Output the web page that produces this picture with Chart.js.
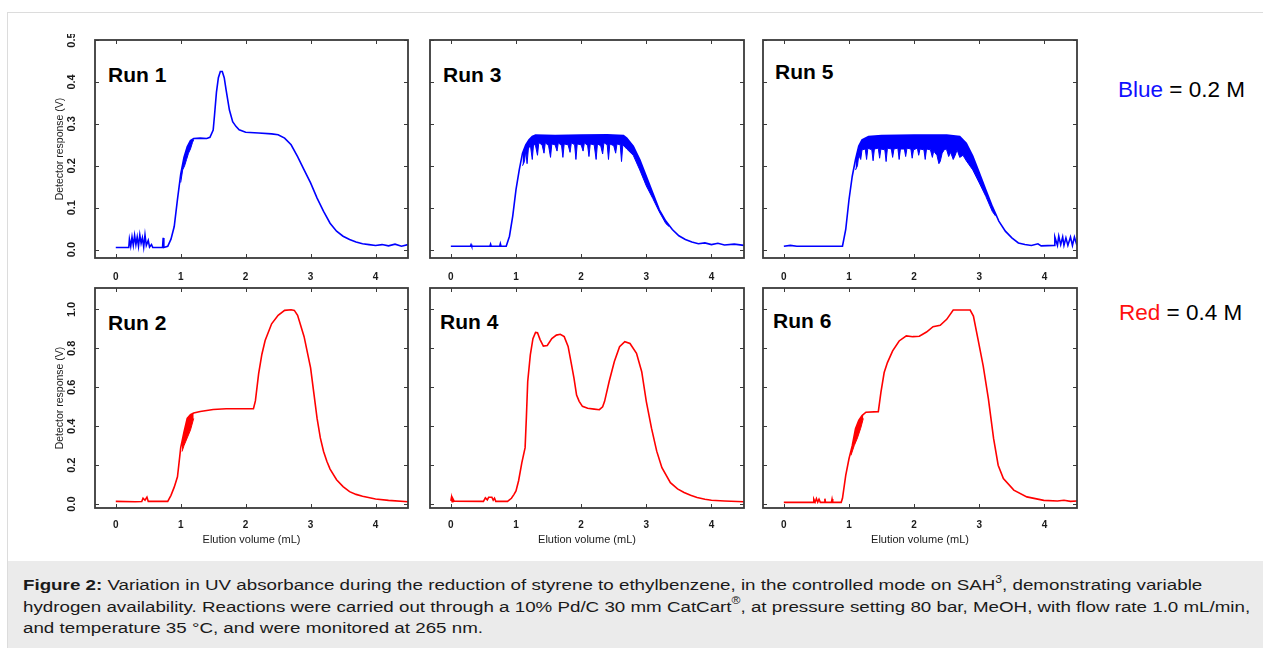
<!DOCTYPE html>
<html>
<head>
<meta charset="utf-8">
<script src="https://cdn.jsdelivr.net/npm/chart.js@4.4.1/dist/chart.umd.min.js"></script>
<style>
  body { margin: 0; background: #fff; font-family: "Liberation Sans", Arial, sans-serif; }
  #page { position: relative; width: 1263px; height: 648px; overflow: hidden; }
  #frame { position: absolute; left: 7px; top: 12px; width: 1300px; height: 700px;
           border-left: 1px solid #dcdcdc; border-top: 1px solid #dcdcdc; }
  canvas { position: absolute; }
  .run { position: absolute; font-weight: bold; font-size: 21px; line-height: 21px; color: #000; }
  .key { position: absolute; font-size: 22.5px; line-height: 22.5px; color: #000; white-space: nowrap; }
  #caption { position: absolute; left: 8px; top: 561px; width: 1260px; height: 87px; background: #ebebeb;
             box-sizing: border-box; padding: 13px 0 0 15px; color: #1a1a1a; white-space: nowrap; }
  #caption div { font-size: 15.5px; line-height: 21.5px; transform: scaleX(1.21); transform-origin: 0 0; }
  #caption sup { font-size: 10px; line-height: 0; position: relative; top: -1px; }
</style>
</head>
<body>
<div id="page">
  <div id="frame"></div>
  <div class="run" style="left:108px;top:64px">Run 1</div>
  <div class="run" style="left:108px;top:312px">Run 2</div>
  <div class="run" style="left:443px;top:64px">Run 3</div>
  <div class="run" style="left:440px;top:311px">Run 4</div>
  <div class="run" style="left:775px;top:61px">Run 5</div>
  <div class="run" style="left:773px;top:310px">Run 6</div>
  <div class="key" style="left:1118px;top:79px"><span style="color:#1010ff">Blue</span> = 0.2 M</div>
  <div class="key" style="left:1119px;top:302px"><span style="color:#ff1010">Red</span> = 0.4 M</div>
  <div id="caption"><div><b>Figure 2:</b> Variation in UV absorbance during the reduction of styrene to ethylbenzene, in the controlled mode on SAH<sup>3</sup>, demonstrating variable<br>hydrogen availability. Reactions were carried out through a 10% Pd/C 30 mm CatCart<sup>®</sup>, at pressure setting 80 bar, MeOH, with flow rate 1.0 mL/min,<br>and temperature 35 °C, and were monitored at 265 nm.</div></div>
</div>
<script>
'use strict';

// tick values
const xTicks = [0, 1, 2, 3, 4];
const topYTicks = [0, 0.1, 0.2, 0.3, 0.4, 0.5];
const bottomYTicks = [0, 0.2, 0.4, 0.6, 0.8, 1.0];

// traces, [elution volume (mL), detector response (V)]
const run1 = [[0,0.005],[0.2,0.005],[0.21,0.025],[0.23,0.008],[0.25,0.03],[0.27,0.01],[0.29,0.034],[0.31,0.012],
  [0.33,0.03],[0.35,0.008],[0.37,0.035],[0.39,0.015],[0.41,0.028],[0.43,0.006],[0.45,0.035],[0.47,0.01],[0.5,0.022],
  [0.52,0.006],[0.55,0.012],[0.57,0.005],[0.72,0.005],[0.73,0.028],[0.74,0.005],[0.8,0.008],[0.85,0.025],[0.9,0.055],
  [0.95,0.12],[1.0,0.18],[1.05,0.22],[1.1,0.245],[1.15,0.26],[1.2,0.265],[1.3,0.266],[1.4,0.265],[1.45,0.268],
  [1.5,0.285],[1.52,0.32],[1.55,0.375],[1.58,0.41],[1.61,0.425],[1.64,0.425],[1.67,0.41],[1.7,0.38],[1.75,0.333],
  [1.8,0.305],[1.85,0.294],[1.9,0.286],[2.0,0.28],[2.2,0.278],[2.4,0.276],[2.5,0.274],[2.6,0.266],[2.7,0.25],
  [2.8,0.222],[2.9,0.19],[3.0,0.159],[3.1,0.123],[3.2,0.091],[3.3,0.063],[3.4,0.044],[3.5,0.032],[3.6,0.024],
  [3.7,0.018],[3.8,0.014],[3.9,0.012],[4.0,0.01],[4.1,0.012],[4.2,0.009],[4.3,0.013],[4.4,0.008],[4.5,0.012]];
const run1Jitter = [[1.0,0.16],[1.03,0.19],[1.06,0.2],[1.09,0.215],[1.12,0.23],[1.15,0.24],[1.18,0.255],[1.2,0.262]];

const run2 = [[0,0.014],[0.3,0.012],[0.4,0.013],[0.42,0.03],[0.45,0.02],[0.48,0.036],[0.5,0.014],[0.8,0.014],
  [0.85,0.045],[0.9,0.087],[0.95,0.14],[1.0,0.29],[1.05,0.37],[1.1,0.44],[1.15,0.46],[1.2,0.468],[1.3,0.476],
  [1.5,0.486],[1.7,0.49],[2.0,0.49],[2.12,0.49],[2.15,0.53],[2.2,0.67],[2.25,0.77],[2.3,0.84],[2.4,0.926],
  [2.5,0.97],[2.6,0.995],[2.7,0.998],[2.75,0.995],[2.8,0.97],[2.9,0.86],[3.0,0.7],[3.05,0.57],[3.1,0.44],
  [3.15,0.34],[3.2,0.27],[3.25,0.22],[3.3,0.18],[3.4,0.125],[3.5,0.09],[3.6,0.064],[3.7,0.05],[3.8,0.04],
  [4.0,0.026],[4.2,0.019],[4.5,0.012]];
const run2Jitter = [[1.02,0.27],[1.05,0.3],[1.1,0.34],[1.15,0.38],[1.2,0.44]];

const run3 = [[0,0.008],[0.3,0.008],[0.31,0.012],[0.32,0.008],[0.6,0.008],[0.61,0.013],[0.62,0.008],[0.75,0.008],
  [0.76,0.014],[0.77,0.008],[0.85,0.008],[0.9,0.032],[0.95,0.08],[1.0,0.143],[1.05,0.19],[1.1,0.23],[1.15,0.25],
  [1.2,0.262],[1.25,0.27],[1.3,0.273],[1.6,0.272],[2.0,0.273],[2.4,0.274],[2.65,0.272],[2.7,0.266],[2.8,0.247],
  [2.9,0.215],[3.0,0.175],[3.1,0.135],[3.2,0.095],[3.3,0.068],[3.4,0.048],[3.5,0.033],[3.6,0.024],[3.7,0.018],
  [3.8,0.014],[3.9,0.016],[4.0,0.012],[4.1,0.015],[4.2,0.011],[4.35,0.013],[4.5,0.01]];
const run3Band = [[1.1,0.2],[1.13,0.21],[1.15,0.235],[1.17,0.205],[1.19,0.24],[1.22,0.25],[1.25,0.215],[1.27,0.252],
  [1.3,0.248],[1.33,0.225],[1.35,0.255],[1.4,0.25],[1.43,0.23],[1.45,0.255],[1.5,0.248],[1.53,0.22],[1.55,0.252],
  [1.6,0.25],[1.63,0.235],[1.65,0.255],[1.7,0.248],[1.72,0.22],[1.74,0.252],[1.8,0.25],[1.83,0.232],[1.85,0.255],
  [1.9,0.25],[1.92,0.215],[1.94,0.252],[2.0,0.25],[2.03,0.235],[2.05,0.255],[2.1,0.248],[2.12,0.222],[2.14,0.252],
  [2.2,0.25],[2.23,0.215],[2.25,0.252],[2.3,0.248],[2.33,0.228],[2.35,0.255],[2.4,0.25],[2.42,0.215],[2.44,0.252],
  [2.5,0.248],[2.53,0.23],[2.55,0.252],[2.6,0.25],[2.62,0.21],[2.64,0.25],[2.7,0.24],[2.8,0.225],[2.9,0.19],
  [3.0,0.152],[3.1,0.122],[3.2,0.09],[3.3,0.062],[3.35,0.055]];

const run4 = [[0,0.017],[0.01,0.035],[0.02,0.012],[0.03,0.028],[0.05,0.015],[0.5,0.014],[0.53,0.032],[0.56,0.022],
  [0.58,0.035],[0.63,0.035],[0.65,0.02],[0.67,0.03],[0.69,0.014],[0.87,0.014],[0.93,0.03],[0.97,0.05],[1.0,0.068],
  [1.04,0.12],[1.09,0.213],[1.14,0.29],[1.16,0.45],[1.18,0.63],[1.22,0.766],[1.26,0.85],[1.3,0.882],[1.33,0.88],
  [1.37,0.845],[1.42,0.812],[1.48,0.815],[1.55,0.85],[1.62,0.868],[1.68,0.872],[1.74,0.86],[1.8,0.81],[1.85,0.72],
  [1.89,0.647],[1.93,0.56],[1.97,0.528],[2.02,0.502],[2.1,0.492],[2.2,0.488],[2.28,0.485],[2.33,0.5],[2.36,0.528],
  [2.43,0.63],[2.51,0.732],[2.59,0.808],[2.67,0.834],[2.75,0.825],[2.85,0.775],[2.93,0.68],[3.0,0.528],[3.08,0.39],
  [3.16,0.272],[3.24,0.187],[3.37,0.11],[3.48,0.078],[3.58,0.06],[3.68,0.045],[3.78,0.034],[3.9,0.025],[4.0,0.02],
  [4.2,0.016],[4.5,0.012]];

const run5 = [[0,0.008],[0.1,0.01],[0.2,0.008],[0.9,0.008],[0.95,0.048],[1.0,0.119],[1.05,0.175],[1.1,0.215],
  [1.15,0.247],[1.2,0.262],[1.3,0.27],[1.5,0.272],[2.0,0.273],[2.5,0.273],[2.7,0.27],[2.8,0.254],[2.9,0.223],
  [3.0,0.183],[3.1,0.143],[3.2,0.103],[3.3,0.068],[3.4,0.044],[3.5,0.028],[3.6,0.016],[3.7,0.012],[3.8,0.01],
  [3.9,0.014],[3.95,0.009],[4.15,0.01],[4.16,0.03],[4.2,0.01],[4.22,0.032],[4.25,0.012],[4.28,0.03],[4.3,0.01],
  [4.33,0.028],[4.36,0.01],[4.4,0.03],[4.43,0.01],[4.46,0.03],[4.5,0.01]];
const run5Band = [[1.1,0.19],[1.13,0.2],[1.15,0.225],[1.18,0.215],[1.2,0.238],[1.25,0.24],[1.27,0.215],[1.29,0.242],
  [1.35,0.238],[1.37,0.212],[1.39,0.24],[1.45,0.242],[1.47,0.218],[1.49,0.24],[1.55,0.238],[1.57,0.21],[1.59,0.242],
  [1.65,0.24],[1.67,0.22],[1.69,0.24],[1.75,0.242],[1.77,0.215],[1.79,0.24],[1.85,0.24],[1.87,0.222],[1.89,0.242],
  [1.95,0.24],[1.97,0.218],[1.99,0.238],[2.05,0.242],[2.07,0.225],[2.09,0.24],[2.15,0.238],[2.17,0.215],[2.19,0.24],
  [2.25,0.238],[2.28,0.22],[2.3,0.235],[2.35,0.225],[2.38,0.205],[2.4,0.21],[2.43,0.23],[2.47,0.24],[2.5,0.238],
  [2.53,0.222],[2.56,0.232],[2.6,0.215],[2.63,0.225],[2.66,0.238],[2.7,0.22],[2.75,0.225],[2.8,0.212],[2.9,0.19],
  [3.0,0.159],[3.1,0.127],[3.2,0.091],[3.25,0.08]];

const run6 = [[0,0.009],[0.45,0.009],[0.46,0.025],[0.48,0.01],[0.5,0.028],[0.52,0.01],[0.54,0.025],[0.56,0.009],
  [0.62,0.009],[0.63,0.028],[0.64,0.009],[0.73,0.009],[0.74,0.026],[0.75,0.009],[0.88,0.009],[0.9,0.03],
  [0.95,0.148],[1.0,0.233],[1.05,0.3],[1.1,0.387],[1.15,0.43],[1.2,0.455],[1.26,0.472],[1.45,0.475],[1.49,0.574],
  [1.54,0.676],[1.59,0.727],[1.67,0.787],[1.77,0.838],[1.88,0.864],[1.98,0.86],[2.08,0.862],[2.19,0.884],
  [2.29,0.911],[2.4,0.918],[2.5,0.949],[2.6,0.997],[2.86,0.997],[2.91,0.966],[2.98,0.847],[3.06,0.71],[3.14,0.54],
  [3.22,0.336],[3.29,0.2],[3.37,0.131],[3.53,0.072],[3.73,0.037],[3.99,0.019],[4.2,0.016],[4.3,0.02],[4.4,0.014],
  [4.5,0.016]];
const run6Jitter = [[1.03,0.25],[1.08,0.3],[1.13,0.34],[1.18,0.39],[1.22,0.44]];

const blue = '#0000ff';
const red = '#ff0000';

// box with inward ticks on all four sides
const frameTicks = {
  id: 'frameTicks',
  afterDatasetsDraw(chart) {
    const { ctx, chartArea: a, scales: { x, y } } = chart;
    ctx.save();
    ctx.strokeStyle = '#3a3a3a';
    ctx.lineWidth = 1;
    ctx.beginPath();
    x.ticks.forEach(function(t) {
      const px = Math.round(x.getPixelForValue(t.value)) + 0.5;
      ctx.moveTo(px, a.top); ctx.lineTo(px, a.top + 4);
      ctx.moveTo(px, a.bottom); ctx.lineTo(px, a.bottom - 4);
    });
    y.ticks.forEach(function(t) {
      const py = Math.round(y.getPixelForValue(t.value)) + 0.5;
      ctx.moveTo(a.left, py); ctx.lineTo(a.left + 4, py);
      ctx.moveTo(a.right, py); ctx.lineTo(a.right - 4, py);
    });
    ctx.stroke();
    ctx.lineWidth = 1.8;
    ctx.strokeRect(a.left, a.top, a.right - a.left, a.bottom - a.top);
    ctx.restore();
  }
};

const cols = [{ left: 95, right: 408 }, { left: 430, right: 744 }, { left: 763, right: 1077 }];
const rows = [
  { top: 40, bottom: 258, yMax: 0.5, yTicks: topYTicks, xh: 26, xpad: 13, xTitle: false },
  { top: 288, bottom: 508, yMax: 1.11, yTicks: bottomYTicks, xh: 40, xpad: 11, xTitle: true }
];

const panels = [
  { data: run1, band: run1Jitter, color: blue, col: 0, row: 0 },
  { data: run3, band: run3Band, color: blue, col: 1, row: 0 },
  { data: run5, band: run5Band, color: blue, col: 2, row: 0 },
  { data: run2, band: run2Jitter, color: red, col: 0, row: 1 },
  { data: run4, band: null, color: red, col: 1, row: 1 },
  { data: run6, band: run6Jitter, color: red, col: 2, row: 1 }
];

const page = document.getElementById('page');

panels.forEach(function(p) {
  const c = cols[p.col];
  const r = rows[p.row];
  const first = p.col === 0;
  const yw = first ? 50 : 10;

  const canvas = document.createElement('canvas');
  const left = c.left - yw;
  const top = r.top - 6;
  canvas.width = c.right - left + 4;
  canvas.height = r.bottom - top + r.xh;
  canvas.style.left = left + 'px';
  canvas.style.top = top + 'px';
  page.appendChild(canvas);

  const datasets = [{
    data: p.data,
    borderColor: p.color,
    borderWidth: 1.6,
    pointRadius: 0,
    tension: 0,
    fill: false
  }];
  if (p.band) {
    datasets.push({
      data: p.band,
      borderColor: p.color,
      backgroundColor: p.color,
      borderWidth: 1,
      pointRadius: 0,
      tension: 0,
      fill: '-1'
    });
  }

  new Chart(canvas.getContext('2d'), {
    type: 'line',
    data: { datasets: datasets },
    options: {
      animation: false,
      responsive: false,
      layout: { padding: { top: 6, right: 4 } },
      plugins: { legend: { display: false }, tooltip: { enabled: false } },
      scales: {
        x: {
          type: 'linear',
          min: -0.32,
          max: 4.5,
          grid: { display: false, drawTicks: false },
          border: { display: false },
          afterBuildTicks: function(s) { s.ticks = xTicks.map(function(v) { return { value: v }; }); },
          afterFit: function(s) { s.height = r.xh; s.paddingLeft = 0; s.paddingRight = 0; },
          ticks: {
            color: '#1a1a1a',
            padding: r.xpad,
            maxRotation: 0,
            font: { family: 'Liberation Sans', size: 10, weight: 'bold' },
            callback: function(v) { return String(v); }
          },
          title: {
            display: r.xTitle,
            text: 'Elution volume (mL)',
            color: '#1a1a1a',
            font: { family: 'Liberation Sans', size: 11 },
            padding: { top: 0, bottom: 1 }
          }
        },
        y: {
          type: 'linear',
          min: -0.02,
          max: r.yMax,
          grid: { display: false, drawTicks: false },
          border: { display: false },
          afterBuildTicks: function(s) { s.ticks = r.yTicks.map(function(v) { return { value: v }; }); },
          afterFit: function(s) { s.width = yw; s.paddingTop = 0; s.paddingBottom = 0; },
          ticks: {
            display: first,
            color: '#1a1a1a',
            minRotation: 90,
            maxRotation: 90,
            crossAlign: 'center',
            padding: 15,
            font: { family: 'Liberation Sans', size: 11, weight: 'bold' },
            callback: function(v) { return v.toFixed(1); }
          },
          title: {
            display: first,
            text: 'Detector response (V)',
            color: '#1a1a1a',
            font: { family: 'Liberation Sans', size: 10.5 },
            padding: { top: 9, bottom: 0 }
          }
        }
      }
    },
    plugins: [frameTicks]
  });
});
</script>
</body>
</html>
